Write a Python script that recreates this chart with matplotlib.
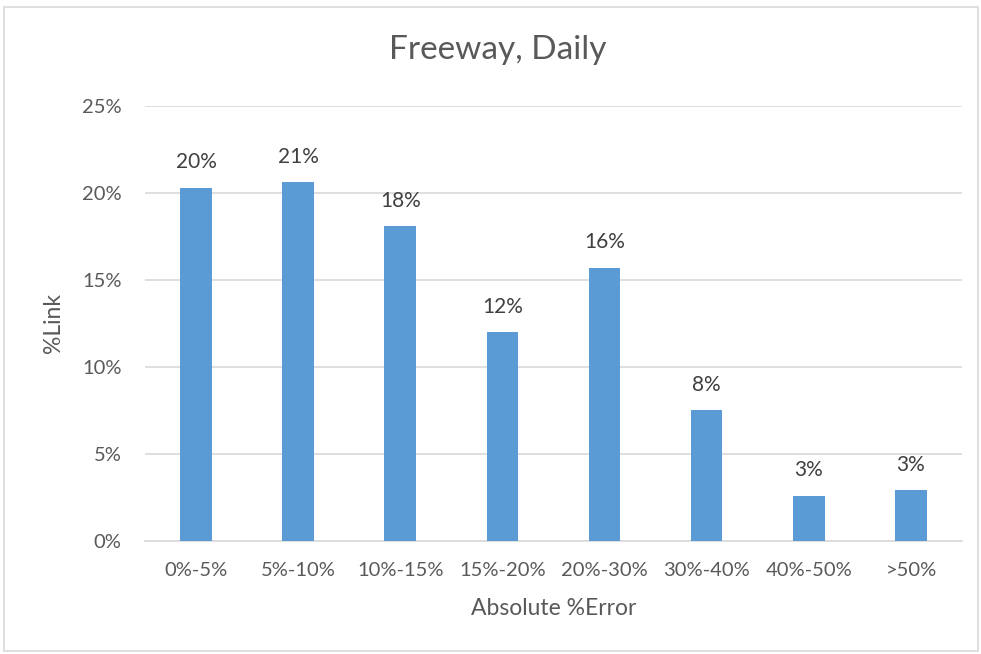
import matplotlib.pyplot as plt
from matplotlib.patches import Rectangle
from matplotlib.ticker import FuncFormatter

CATEGORIES = ["0%-5%", "5%-10%", "10%-15%", "15%-20%", "20%-30%", "30%-40%", "40%-50%", ">50%"]
PCT_LINK = [20.3, 20.6, 18.1, 12.0, 15.7, 7.5, 2.6, 2.9]

BAR_COLOR = "#5B9BD5"
TEXT_COLOR = "#595959"
GRID_COLOR = "#D9D9D9"


def main():
    plt.rcParams["font.family"] = ["Lato", "DejaVu Sans"]

    fig = plt.figure(figsize=(9.81, 6.54), dpi=100)
    ax = fig.add_axes([0.1478, 0.1728, 0.8328, 0.6656])

    x = range(len(CATEGORIES))
    bars = ax.bar(x, PCT_LINK, width=0.31, color=BAR_COLOR, zorder=3)

    for bar, val in zip(bars, PCT_LINK):
        ax.annotate(f"{round(val):.0f}%",
                    (bar.get_x() + bar.get_width() / 2, bar.get_height()),
                    xytext=(0, 11), textcoords="offset points",
                    ha="center", va="bottom", fontsize=15, color="#404040")

    ax.set_xlim(-0.5, len(CATEGORIES) - 0.5)
    ax.set_ylim(0, 25)
    ax.set_yticks(range(0, 26, 5))
    ax.yaxis.set_major_formatter(FuncFormatter(lambda v, _: f"{v:.0f}%"))
    ax.set_xticks(list(x))
    ax.set_xticklabels(CATEGORIES)

    ax.grid(axis="y", color=GRID_COLOR, linewidth=1.2, zorder=0)
    for side in ["top", "right", "left"]:
        ax.spines[side].set_visible(False)
    ax.spines["bottom"].set_color(GRID_COLOR)
    ax.spines["bottom"].set_linewidth(1.2)

    ax.tick_params(axis="both", length=0, colors=TEXT_COLOR, labelsize=14.5)
    ax.tick_params(axis="y", pad=17)
    ax.tick_params(axis="x", pad=15)

    fig.text(0.507, 0.924, "Freeway, Daily", fontsize=24, color=TEXT_COLOR,
             ha="center", va="center")
    ax.set_xlabel("Absolute %Error", fontsize=16.5, color=TEXT_COLOR, labelpad=14)
    ax.set_ylabel("%Link", fontsize=16.5, color=TEXT_COLOR, labelpad=13)

    fig.add_artist(Rectangle((0.004, 0.004), 0.993, 0.985, transform=fig.transFigure,
                             fill=False, edgecolor=GRID_COLOR, linewidth=1.2))

    fig.savefig("out.png", dpi=100)
    plt.close(fig)


if __name__ == "__main__":
    main()
